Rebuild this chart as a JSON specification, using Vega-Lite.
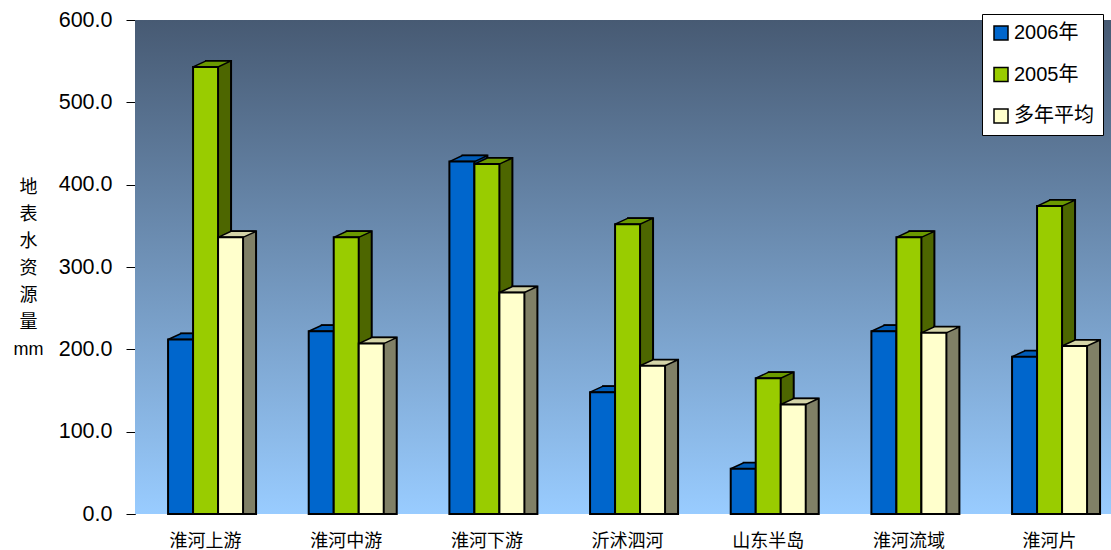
{
  "$schema": "https://vega.github.io/schema/vega-lite/v6.json",
  "width": 976,
  "height": 494,
  "autosize": {"type": "none"},
  "padding": {"left": 135, "top": 20, "right": 0, "bottom": 36},
  "background": "white",
  "config": {"view": {"stroke": null}},
  "data": {"values": [
    {"region": "淮河上游", "series": "2006年", "value": 212},
    {"region": "淮河上游", "series": "2005年", "value": 543},
    {"region": "淮河上游", "series": "多年平均", "value": 336},
    {"region": "淮河中游", "series": "2006年", "value": 222},
    {"region": "淮河中游", "series": "2005年", "value": 336},
    {"region": "淮河中游", "series": "多年平均", "value": 207},
    {"region": "淮河下游", "series": "2006年", "value": 428},
    {"region": "淮河下游", "series": "2005年", "value": 425},
    {"region": "淮河下游", "series": "多年平均", "value": 269},
    {"region": "沂沭泗河", "series": "2006年", "value": 148},
    {"region": "沂沭泗河", "series": "2005年", "value": 352},
    {"region": "沂沭泗河", "series": "多年平均", "value": 180},
    {"region": "山东半岛", "series": "2006年", "value": 55},
    {"region": "山东半岛", "series": "2005年", "value": 165},
    {"region": "山东半岛", "series": "多年平均", "value": 133},
    {"region": "淮河流域", "series": "2006年", "value": 222},
    {"region": "淮河流域", "series": "2005年", "value": 336},
    {"region": "淮河流域", "series": "多年平均", "value": 220},
    {"region": "淮河片", "series": "2006年", "value": 191},
    {"region": "淮河片", "series": "2005年", "value": 374},
    {"region": "淮河片", "series": "多年平均", "value": 204}
  ]},
  "encoding": {
    "x": {
      "field": "region", "type": "nominal", "sort": null,
      "scale": {"paddingInner": 0.4668, "paddingOuter": 0.2026, "align": 0.58},
      "axis": {
        "title": null, "labelAngle": 0, "domain": false, "ticks": false,
        "labelFont": "Noto Sans CJK SC", "labelFontSize": 18, "labelColor": "black",
        "labelPadding": 18
      }
    },
    "y": {
      "field": "value", "type": "quantitative",
      "scale": {"domain": [0, 600], "nice": false},
      "axis": {
        "values": [0, 100, 200, 300, 400, 500, 600],
        "format": ".1f", "grid": false,
        "labelFont": "Liberation Sans", "labelFontSize": 21.5, "labelColor": "black",
        "labelPadding": 14, "tickSize": 9, "tickColor": "black", "domainColor": "black",
        "title": ["地", "表", "水", "资", "源", "量", "mm"],
        "titleAngle": 0, "titleFont": "Liberation Sans, Noto Sans CJK SC", "titleFontSize": 18,
        "titleFontWeight": "normal", "titleColor": "black", "titleLineHeight": 27,
        "titleAlign": "center", "titleBaseline": "middle", "titleX": -107, "titleY": 167
      }
    }
  },
  "layer": [
    {
      "mark": {
        "type": "rect",
        "fill": {"gradient": "linear", "x1": 0, "y1": 0, "x2": 0, "y2": 1,
          "stops": [{"offset": 0, "color": "#475a73"}, {"offset": 1, "color": "#99ccff"}]}
      },
      "encoding": {"x": {"value": 0}, "x2": {"value": "width"}, "y": {"datum": 600}, "y2": {"datum": 0}}
    },
    {
      "mark": {"type": "bar", "stroke": "black", "strokeWidth": 2, "yOffset": -6, "y2Offset": 0.001},
      "encoding": {
        "y2": {"datum": 0},
        "xOffset": {"field": "series", "type": "nominal", "sort": null,
          "scale": {"range": [13, 88], "paddingInner": 0, "paddingOuter": 0}},
        "fill": {"field": "series", "type": "nominal", "sort": null, "legend": null,
          "scale": {"range": ["#003a75", "#4d6600", "#808066"]}}
      }
    },
    {
      "mark": {"type": "point", "shape": "M-1,0L1,0L2.04,-0.48L0.04,-0.48Z", "size": 625,
        "filled": true, "opacity": 1, "stroke": "black", "strokeWidth": 1.5},
      "encoding": {
        "xOffset": {"field": "series", "type": "nominal", "sort": null,
          "scale": {"range": [12.5, 62.5], "padding": 0}},
        "fill": {"field": "series", "type": "nominal", "sort": null, "legend": null,
          "scale": {"range": ["#005cb8", "#6b9900", "#d4d4a8"]}}
      }
    },
    {
      "mark": {"type": "bar", "stroke": "black", "strokeWidth": 2},
      "encoding": {
        "xOffset": {"field": "series", "type": "nominal", "sort": null,
          "scale": {"paddingInner": 0, "paddingOuter": 0}},
        "color": {"field": "series", "type": "nominal", "sort": null,
          "scale": {"range": ["#0066cc", "#99cc00", "#ffffcc"]},
          "legend": {
            "title": null, "orient": "none", "legendX": 847, "legendY": -6,
            "fillColor": "white", "strokeColor": "black", "padding": 9,
            "labelFont": "Liberation Sans, Noto Sans CJK SC", "labelFontSize": 20, "labelColor": "black",
            "labelOffset": 3, "rowPadding": 21.5,
            "symbolType": "square", "symbolSize": 196, "symbolStrokeColor": "black",
            "symbolStrokeWidth": 1.5, "symbolOpacity": 1
          }
        }
      }
    }
  ],
  "resolve": {"scale": {"xOffset": "independent", "fill": "independent"}}
}
